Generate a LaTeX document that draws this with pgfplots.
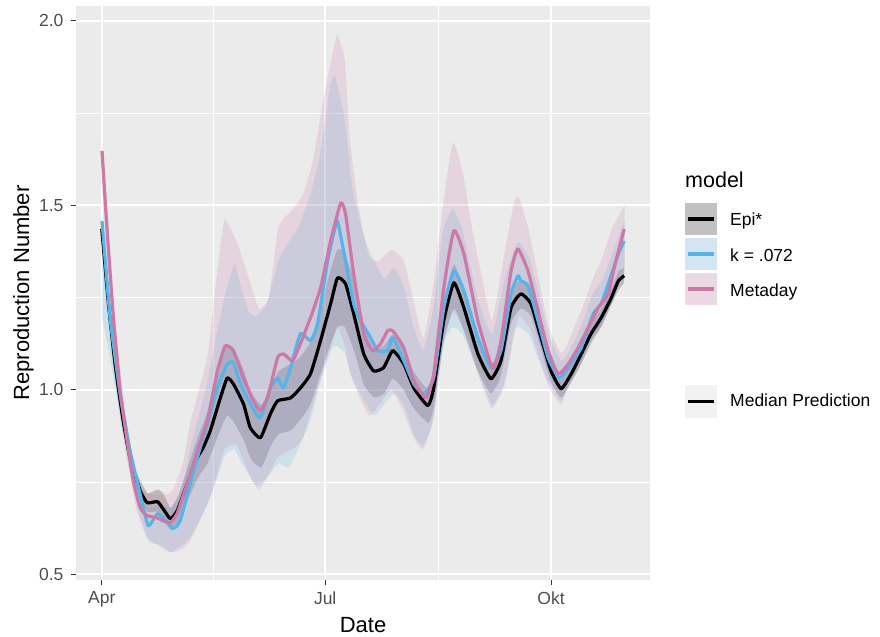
\documentclass[border=0pt]{standalone}
\usepackage{fontspec}
\setmainfont{Liberation Sans}
\usepackage{pgfplots}
\usepackage{pgfplotstable}
\pgfplotsset{compat=1.18}
\usepgfplotslibrary{fillbetween}
\definecolor{panel}{HTML}{EBEBEB}
\definecolor{keybg}{HTML}{F2F2F2}
\definecolor{kblue}{HTML}{56B4E9}
\definecolor{mpink}{HTML}{CC79A7}
\definecolor{ticklab}{HTML}{4D4D4D}
\definecolor{tickcol}{HTML}{333333}

% day = days since 1 April
\pgfplotstableread{
day med
0 1.436
2.6 1.241
5.4 1.070
8.7 0.916
11.5 0.816
15.6 0.727
18.5 0.694
22.6 0.697
24.6 0.681
27.9 0.651
30.7 0.672
34.8 0.745
38.9 0.816
41.3 0.843
44.2 0.889
48.3 0.978
51.1 1.032
53.6 1.016
57.7 0.962
60.5 0.897
64.6 0.870
68.7 0.935
71.6 0.970
76.9 0.978
80.9 1.005
85.0 1.043
89.1 1.133
93.2 1.233
96.0 1.303
99.3 1.287
102.6 1.206
106.7 1.097
110.7 1.051
114.8 1.060
118.5 1.106
123.0 1.070
127.1 1.005
132.8 0.957
135.2 1.005
139.3 1.187
143.4 1.290
147.5 1.222
153.2 1.097
158.5 1.030
162.6 1.079
166.7 1.222
170.7 1.260
174.8 1.233
178.9 1.141
183.0 1.051
187.1 1.003
191.2 1.043
195.3 1.097
199.3 1.152
203.4 1.195
207.5 1.249
210.4 1.295
212.8 1.309
}\epimed

\pgfplotstableread{
day med
0.1 1.457
3.4 1.195
7.5 0.989
11.5 0.835
15.6 0.718
18.9 0.632
22.6 0.664
25.0 0.653
29.1 0.624
32.0 0.646
36.0 0.746
38.9 0.816
43.0 0.908
47.1 1.005
51.1 1.070
53.6 1.073
56.4 1.016
60.5 0.962
64.6 0.924
68.7 1.005
71.6 1.032
74.0 1.005
76.9 1.060
80.9 1.152
85.0 1.133
87.9 1.179
92.0 1.349
94.4 1.422
96.0 1.457
98.5 1.376
102.6 1.233
105.4 1.187
109.5 1.141
112.4 1.106
116.4 1.106
118.5 1.141
123.0 1.079
127.1 1.016
131.1 0.989
135.2 1.032
139.3 1.222
143.4 1.322
147.5 1.268
153.2 1.141
158.5 1.060
162.6 1.106
166.7 1.260
169.5 1.309
170.7 1.295
173.6 1.282
177.7 1.187
181.8 1.087
186.3 1.032
190.0 1.060
195.3 1.114
200.2 1.206
203.4 1.233
206.3 1.287
210.4 1.368
212.8 1.403
}\kmed

\pgfplotstableread{
day med
0.1 1.647
2.2 1.430
4.6 1.206
7.5 0.997
10.3 0.862
12.8 0.754
15.6 0.681
18.5 0.659
22.6 0.653
25.0 0.645
27.9 0.640
30.7 0.665
34.8 0.746
38.9 0.835
43.0 0.916
47.1 1.051
50.3 1.119
53.6 1.106
57.7 1.032
61.8 0.970
64.6 0.943
67.5 0.978
71.6 1.087
74.0 1.097
77.7 1.079
80.9 1.125
85.0 1.195
89.1 1.276
93.2 1.403
97.3 1.506
99.3 1.476
102.6 1.314
106.7 1.152
110.3 1.106
113.6 1.125
116.4 1.160
118.5 1.160
123.0 1.114
127.1 1.024
132.0 0.978
135.2 1.043
139.3 1.276
143.4 1.431
147.5 1.368
153.2 1.187
159.3 1.057
162.6 1.133
166.7 1.322
169.5 1.382
173.6 1.322
177.7 1.214
181.8 1.106
185.9 1.043
190.0 1.070
194.0 1.114
198.1 1.168
202.2 1.222
206.3 1.260
208.7 1.330
212.8 1.436
}\metamed

\pgfplotstableread{
day lo hi
0 1.42 1.45
3 1.19 1.25
6 1.02 1.07
10 0.84 0.89
14 0.73 0.78
18.5 0.67 0.72
22.6 0.67 0.73
25 0.65 0.72
28 0.62 0.68
31 0.63 0.71
35 0.70 0.79
39 0.76 0.87
43 0.80 0.94
47 0.87 1.05
51 0.93 1.12
54 0.91 1.11
58 0.86 1.05
61 0.81 0.99
65 0.79 0.96
69 0.85 1.01
72 0.88 1.05
77 0.89 1.07
81 0.92 1.09
85 0.96 1.13
89 1.04 1.22
93 1.12 1.32
96 1.17 1.38
99 1.17 1.37
103 1.10 1.29
107 1.01 1.17
111 0.98 1.11
115 0.99 1.12
118.5 1.03 1.15
123 1.00 1.12
127 0.95 1.05
133 0.91 1.00
135.2 0.95 1.05
139.3 1.13 1.24
143.4 1.22 1.34
147.5 1.16 1.27
153.2 1.05 1.14
158.5 0.99 1.07
162.6 1.04 1.12
166.7 1.18 1.26
170.7 1.22 1.30
174.8 1.20 1.27
178.9 1.11 1.17
183 1.02 1.08
187.1 0.98 1.03
191.2 1.02 1.07
195.3 1.07 1.12
199.3 1.13 1.18
203.4 1.17 1.22
207.5 1.23 1.27
210.4 1.27 1.32
212.8 1.29 1.33
}\epirib

\pgfplotstableread{
day lo hi
0 1.20 1.50
3 1.10 1.25
6 0.98 1.06
10 0.82 0.90
14 0.70 0.77
19 0.59 0.68
24 0.58 0.69
28 0.56 0.68
33 0.58 0.74
36 0.60 0.84
43 0.69 1.02
47 0.76 1.16
50 0.82 1.25
54 0.84 1.34
57 0.80 1.27
60 0.77 1.21
63 0.74 1.20
67 0.76 1.23
72 0.80 1.35
76 0.79 1.40
80 0.84 1.44
85 0.92 1.53
89 1.02 1.64
93 1.10 1.82
95 1.12 1.85
99 1.10 1.73
102 1.03 1.55
107 0.97 1.41
111 0.93 1.35
115 0.96 1.30
119 0.99 1.33
123 0.96 1.28
127 0.88 1.17
131 0.85 1.11
135 0.92 1.22
139 1.12 1.43
143 1.17 1.49
147 1.15 1.43
153 1.05 1.25
159 0.96 1.15
164 1.02 1.30
168 1.16 1.38
170 1.17 1.40
174 1.15 1.36
178 1.08 1.26
182 1.02 1.15
187 0.97 1.08
190 1.01 1.10
195 1.07 1.17
200 1.14 1.26
204 1.18 1.30
208 1.24 1.37
213 1.34 1.46
}\krib

\pgfplotstableread{
day lo hi
0 1.55 1.68
3 1.30 1.42
6 1.05 1.15
10 0.83 0.92
14 0.68 0.77
18.5 0.60 0.72
28 0.56 0.72
33 0.57 0.80
36 0.59 0.91
43 0.69 1.09
47 0.77 1.32
50 0.84 1.46
55 0.85 1.40
60 0.77 1.30
64 0.73 1.22
68 0.77 1.25
72 0.82 1.44
78 0.84 1.49
82 0.87 1.53
86 0.96 1.62
90 1.05 1.78
94 1.13 1.91
96 1.17 1.96
99 1.12 1.89
101 1.05 1.68
105 0.98 1.48
109 0.93 1.36
113 0.96 1.35
118 1.00 1.38
123 0.94 1.35
127 0.87 1.24
131 0.84 1.14
135 0.92 1.28
139 1.13 1.50
143 1.21 1.67
147 1.17 1.59
151 1.09 1.43
155 1.01 1.30
159 0.95 1.19
164 1.01 1.37
168 1.15 1.51
170 1.20 1.52
174 1.17 1.43
178 1.09 1.30
182 1.01 1.17
187 0.96 1.10
190 1.01 1.13
195 1.07 1.21
200 1.13 1.30
204 1.18 1.36
208 1.24 1.44
213 1.32 1.50
}\metarib

\begin{document}
\begin{tikzpicture}
\path (0,0) rectangle (880bp,637bp);
\begin{axis}[
  at={(76bp,57bp)}, anchor=south west,
  width=574bp, height=574bp, scale only axis,
  xmin=-10.5, xmax=223.3, ymin=0.4846, ymax=2.040,
  axis background/.style={fill=panel},
  axis line style={draw=none},
  xtick={0,91,183}, xticklabels={Apr,Jul,Okt},
  ytick={0.5,1,1.5,2}, yticklabels={0.5,1.0,1.5,2.0},
  minor xtick={45.5,137}, minor ytick={0.75,1.25,1.75},
  grid=both,
  major grid style={white, line width=2bp},
  minor grid style={white, line width=1bp},
  tick align=outside, tick pos=left,
  major tick length=5bp, minor tick length=0pt,
  every tick/.style={tickcol, line width=1bp},
  tick label style={font=\fontsize{17.5bp}{20bp}\selectfont, text=ticklab},
  yticklabel style={xshift=-4bp},
  xticklabel style={yshift=-3bp},
  xlabel={Date}, ylabel={Reproduction Number},
  label style={font=\fontsize{22bp}{26bp}\selectfont},
  xlabel style={at={(axis description cs:0.5,0)}, anchor=base, yshift=-52bp},
  ylabel style={at={(axis description cs:0,0.5)}, anchor=base, yshift=47bp},
  clip=true,
]
\addplot[draw=none, name path=elo, forget plot, smooth, tension=0.3] table[x=day, y=lo] {\epirib};
\addplot[draw=none, name path=ehi, forget plot, smooth, tension=0.3] table[x=day, y=hi] {\epirib};
\addplot[fill=black, fill opacity=0.2, draw=none] fill between[of=elo and ehi];
\addplot[draw=none, name path=klo, forget plot, smooth, tension=0.3] table[x=day, y=lo] {\krib};
\addplot[draw=none, name path=khi, forget plot, smooth, tension=0.3] table[x=day, y=hi] {\krib};
\addplot[fill=kblue, fill opacity=0.2, draw=none] fill between[of=klo and khi];
\addplot[draw=none, name path=mlo, forget plot, smooth, tension=0.3] table[x=day, y=lo] {\metarib};
\addplot[draw=none, name path=mhi, forget plot, smooth, tension=0.3] table[x=day, y=hi] {\metarib};
\addplot[fill=mpink, fill opacity=0.2, draw=none] fill between[of=mlo and mhi];

\addplot[black, line width=3.2bp, line join=round, smooth, tension=0.3] table[x=day, y=med] {\epimed};
\addplot[kblue, line width=3.2bp, line join=round, smooth, tension=0.3] table[x=day, y=med] {\kmed};
\addplot[mpink, line width=3.2bp, line join=round, smooth, tension=0.3] table[x=day, y=med] {\metamed};
\end{axis}

% legend
\node[anchor=base west, inner sep=0, font=\fontsize{21.5bp}{26bp}\selectfont] at (685bp,449bp) {model};
\fill[keybg] (685bp,402bp) rectangle (717bp,434bp);
\fill[black, opacity=0.2] (685bp,402bp) rectangle (717bp,434bp);
\draw[black, line width=3.2bp] (688bp,418bp) -- (714bp,418bp);
\node[anchor=base west, inner sep=0, font=\fontsize{17.5bp}{20bp}\selectfont] at (730bp,411bp) {Epi*};

\fill[keybg] (685bp,367bp) rectangle (717bp,399bp);
\fill[kblue, opacity=0.2] (685bp,367bp) rectangle (717bp,399bp);
\draw[kblue, line width=3.2bp] (688bp,383bp) -- (714bp,383bp);
\node[anchor=base west, inner sep=0, font=\fontsize{17.5bp}{20bp}\selectfont] at (730bp,375bp) {k = .072};

\fill[keybg] (685bp,332bp) rectangle (717bp,364bp);
\fill[mpink, opacity=0.2] (685bp,332bp) rectangle (717bp,364bp);
\draw[mpink, line width=3.2bp] (688bp,348bp) -- (714bp,348bp);
\node[anchor=base west, inner sep=0, font=\fontsize{17.5bp}{20bp}\selectfont] at (730bp,340bp) {Metaday};

\fill[keybg] (685bp,219bp) rectangle (717bp,252bp);
\draw[black, line width=3.2bp] (688bp,235.5bp) -- (714bp,235.5bp);
\node[anchor=base west, inner sep=0, font=\fontsize{17.5bp}{20bp}\selectfont] at (730bp,230bp) {Median Prediction};
\end{tikzpicture}
\end{document}
